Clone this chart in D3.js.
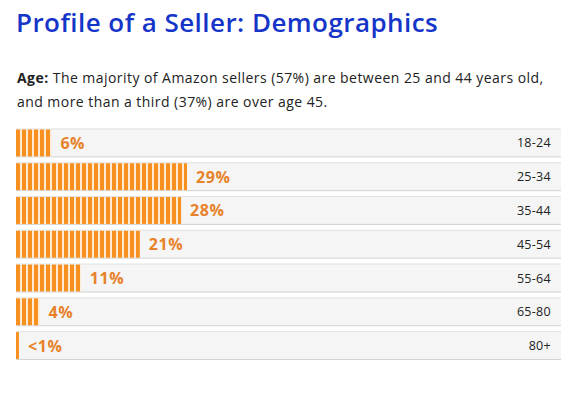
<!DOCTYPE html>
<html>
<head>
<meta charset="utf-8">
<script src="https://cdn.jsdelivr.net/npm/d3@7"></script>
<style>
  html, body { margin: 0; padding: 0; background: #ffffff; }
  svg { display: block; }
</style>
</head>
<body>
<svg id="chart" width="581" height="397"></svg>
<script>
const categories = ["18-24", "25-34", "35-44", "45-54", "55-64", "65-80", "80+"];
const values = [6, 29, 28, 21, 11, 4, 0.5];
const valueLabels = ["6%", "29%", "28%", "21%", "11%", "4%", "<1%"];
const titleText = "Profile of a Seller: Demographics";
const subtitleBold = "Age:";
const subtitleLine1 = " The majority of Amazon sellers (57%) are between 25 and 44 years old,";
const subtitleLine2 = "and more than a third (37%) are over age 45.";

const svg = d3.select("#chart");
const font = "'Open Sans', 'Noto Sans', sans-serif";

const left = 16, right = 561;
const x = d3.scaleLinear().domain([0, 29]).range([left, left + 171]);
const y = d3.scaleBand().domain(categories).range([128.5, 360]).paddingInner(0.145).paddingOuter(0);

// pattern
const defs = svg.append("defs");
const pat = defs.append("pattern")
  .attr("id", "stripes")
  .attr("patternUnits", "userSpaceOnUse")
  .attr("x", left).attr("y", 0)
  .attr("width", 6).attr("height", 10);
pat.append("rect").attr("width", 6).attr("height", 10).attr("fill", "#fee9d2");
pat.append("rect").attr("width", 4).attr("height", 10).attr("fill", "#f7901e");

// title
svg.append("text")
  .attr("x", 16).attr("y", 32)
  .attr("font-family", font).attr("font-weight", 600)
  .attr("font-size", 26).attr("letter-spacing", 0.45).attr("fill", "#1535c9")
  .text(titleText);

const sub = svg.append("text")
  .attr("x", 17).attr("y", 83)
  .attr("font-family", font).attr("font-size", 14).attr("letter-spacing", 0.45).attr("fill", "#222222");
sub.append("tspan").attr("font-weight", 700).text(subtitleBold);
sub.append("tspan").text(subtitleLine1);
svg.append("text")
  .attr("x", 17).attr("y", 107)
  .attr("font-family", font).attr("font-size", 14).attr("letter-spacing", 0.45).attr("fill", "#222222")
  .text(subtitleLine2);

const rows = svg.append("g").selectAll("g").data(categories).join("g");

rows.append("rect")
  .attr("x", left).attr("y", d => y(d))
  .attr("width", right - left).attr("height", y.bandwidth())
  .attr("fill", "#f4f5f4");
rows.append("line")
  .attr("x1", left).attr("x2", right)
  .attr("y1", d => y(d) + 0.5).attr("y2", d => y(d) + 0.5)
  .attr("stroke", "#e2e2e2");
rows.append("line")
  .attr("x1", left).attr("x2", right)
  .attr("y1", d => y(d) + y.bandwidth() - 0.5).attr("y2", d => y(d) + y.bandwidth() - 0.5)
  .attr("stroke", "#d4d4d4");

rows.append("rect")
  .attr("x", left).attr("y", d => y(d) + 1)
  .attr("width", (d, i) => x(values[i]) - left)
  .attr("height", y.bandwidth() - 2)
  .attr("fill", "url(#stripes)");

rows.append("text")
  .attr("x", (d, i) => x(values[i]) + 9)
  .attr("y", d => y(d) + y.bandwidth() / 2 + 6)
  .attr("font-family", font).attr("font-weight", 700)
  .attr("font-size", 16).attr("letter-spacing", 0.6).attr("fill", "#e8822a")
  .text((d, i) => valueLabels[i]);

rows.append("text")
  .attr("x", 551)
  .attr("y", d => y(d) + y.bandwidth() / 2 + 4.5)
  .attr("text-anchor", "end")
  .attr("font-family", font).attr("font-size", 12.5).attr("letter-spacing", 0.3).attr("fill", "#222222")
  .text(d => d);
</script>
</body>
</html>
